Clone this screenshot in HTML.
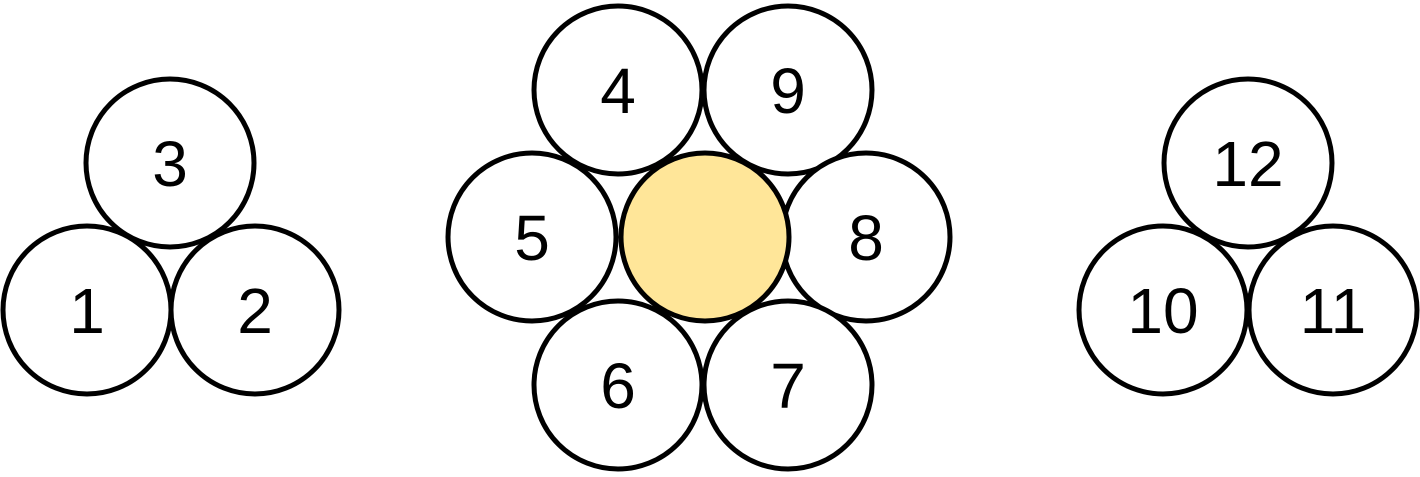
<!DOCTYPE html>
<html><head><style>html,body{margin:0;padding:0;background:#fff;}</style></head>
<body>
<svg width="1420" height="472" xmlns="http://www.w3.org/2000/svg" font-family="Liberation Sans, Arial, sans-serif" font-size="64" text-anchor="middle">
<g fill="#fff" stroke="#000" stroke-width="5">
<circle cx="170" cy="163" r="84"/>
<circle cx="87" cy="310" r="84"/>
<circle cx="255" cy="310" r="84"/>
<circle cx="618" cy="90" r="84"/>
<circle cx="788" cy="90" r="84"/>
<circle cx="532" cy="237" r="84"/>
<circle cx="866" cy="237" r="84"/>
<circle cx="618" cy="385" r="84"/>
<circle cx="788" cy="385" r="84"/>
<circle cx="705" cy="237" r="84" fill="#ffe699"/>
<circle cx="1248" cy="163" r="84"/>
<circle cx="1163" cy="310" r="84"/>
<circle cx="1333" cy="310" r="84"/>
</g>
<g fill="#000">
<text x="170" y="186">3</text>
<text x="87" y="333">1</text>
<text x="255" y="333">2</text>
<text x="618" y="113">4</text>
<text x="788" y="113">9</text>
<text x="532" y="260">5</text>
<text x="866" y="260">8</text>
<text x="618" y="408">6</text>
<text x="788" y="408">7</text>
<text x="1248" y="186">12</text>
<text x="1163" y="333">10</text>
<text x="1333" y="333">11</text>
</g>
</svg>
</body></html>
